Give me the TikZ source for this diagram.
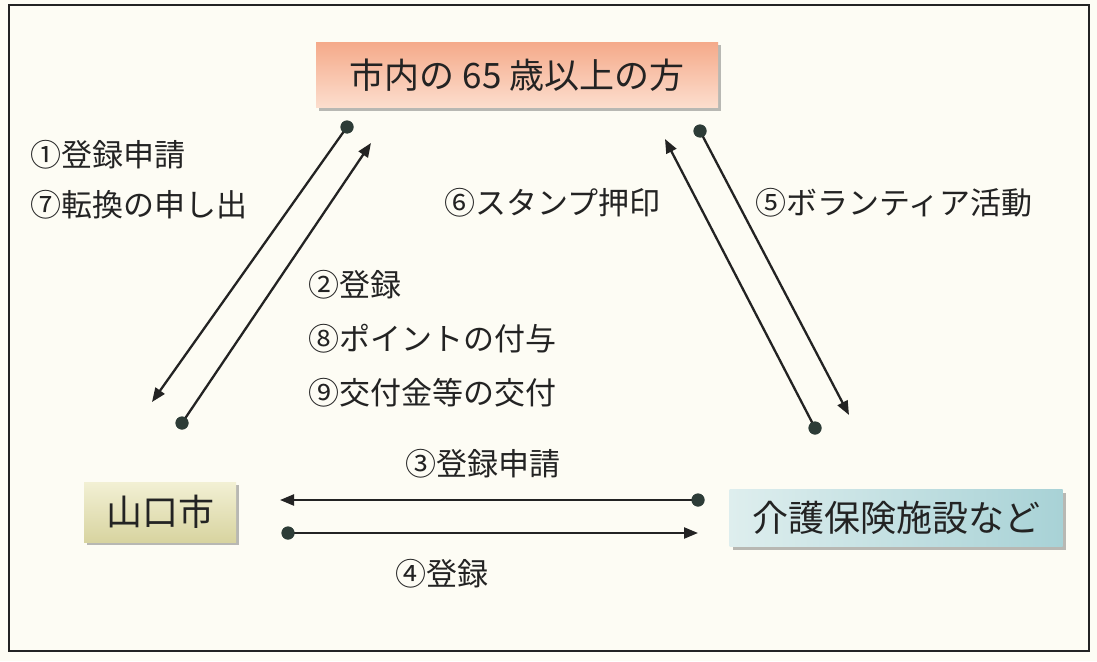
\documentclass[tikz,border=0pt]{standalone}
\usepackage{fontspec}
\setmainfont{Noto Sans CJK JP}
\usetikzlibrary{arrows.meta,shadows}
\definecolor{ink}{RGB}{35,35,35}
\definecolor{dotc}{RGB}{45,60,55}
\definecolor{bgc}{RGB}{253,252,244}
\definecolor{salmonA}{RGB}{245,170,138}
\definecolor{salmonB}{RGB}{252,222,206}
\definecolor{oliveA}{RGB}{242,240,212}
\definecolor{oliveB}{RGB}{216,212,160}
\definecolor{blueA}{RGB}{222,238,238}
\definecolor{blueB}{RGB}{168,210,214}
\tikzset{
  boxbase/.style={draw=none, minimum height=60pt, inner sep=0pt,
    drop shadow={shadow xshift=3pt, shadow yshift=-3pt, opacity=.45, fill=black!60}},
  lbl/.style={anchor=west, text=ink, font=\fontsize{31}{33}\selectfont, inner sep=0pt},
  conn/.style={draw=ink, line width=2.3pt, -{Triangle[length=14pt,width=11pt]}},
  dot/.style={fill=dotc, draw=none, circle, minimum size=13pt, inner sep=0pt}
}
\begin{document}
\begin{tikzpicture}[x=1pt,y=-1pt]
\useasboundingbox (0,0) rectangle (1097,661);
\fill[bgc] (0,0) rectangle (1097,661);
\draw[ink, line width=1.6pt] (9,5) rectangle (1089,651);

% boxes
\node[boxbase, top color=salmonA, bottom color=salmonB, minimum width=402pt, minimum height=65pt, font=\fontsize{35}{37}\selectfont, text=ink]
  (elder) at (517,75) {市内の 65 歳以上の方};
\node[boxbase, top color=oliveA, bottom color=oliveB, minimum width=152pt, minimum height=60pt, font=\fontsize{36}{38}\selectfont, text=ink]
  (city) at (160,512) {山口市};
\node[boxbase, left color=blueA, right color=blueB, minimum width=333pt, minimum height=57pt, font=\fontsize{36}{38}\selectfont, text=ink]
  (facility) at (896,518) {介護保険施設など};

% connector end points
\node[dot] (d1) at (347,127) {};
\coordinate (t1) at (152,402);
\node[dot] (d2) at (182,423) {};
\coordinate (t2) at (371,143);
\node[dot] (d5) at (700,131) {};
\coordinate (t5) at (849,415);
\node[dot] (d6) at (815,428) {};
\coordinate (t6) at (665,139);
\node[dot] (d3) at (698,500) {};
\coordinate (t3) at (280,500);
\node[dot] (d4) at (288,533) {};
\coordinate (t4) at (698,533);

\draw[conn] (d1.center) -- (t1);
\draw[conn] (d2.center) -- (t2);
\draw[conn] (d5.center) -- (t5);
\draw[conn] (d6.center) -- (t6);
\draw[conn] (d3.center) -- (t3);
\draw[conn] (d4.center) -- (t4);
\node[dot] at (d1) {};
\node[dot] at (d2) {};
\node[dot] at (d5) {};
\node[dot] at (d6) {};
\node[dot] at (d3) {};
\node[dot] at (d4) {};

% labels
\node[lbl] (l1) at (30,155) {①登録申請};
\node[lbl] (l7) at (30,205) {⑦転換の申し出};
\node[lbl] (l2) at (308,285) {②登録};
\node[lbl] (l8) at (308,339) {⑧ポイントの付与};
\node[lbl] (l9) at (308,393) {⑨交付金等の交付};
\node[lbl] (l6) at (444,203) {⑥スタンプ押印};
\node[lbl] (l5) at (755,203) {⑤ボランティア活動};
\node[lbl] (l3) at (405,464) {③登録申請};
\node[lbl] (l4) at (395,574) {④登録};
\end{tikzpicture}
\end{document}
